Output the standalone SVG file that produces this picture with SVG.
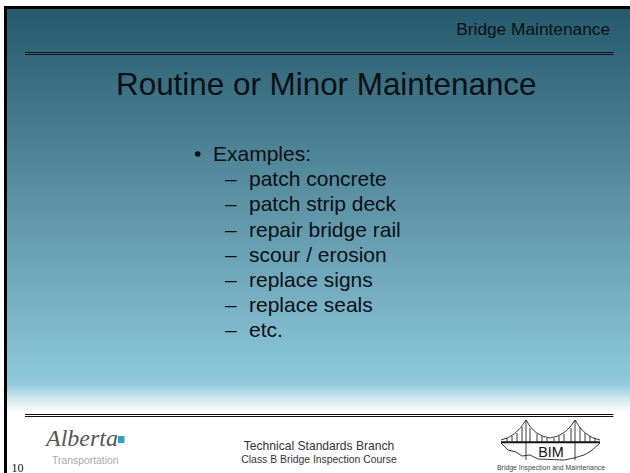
<svg xmlns="http://www.w3.org/2000/svg" width="630" height="473" viewBox="0 0 630 473">
<style>
text{font-family:"Liberation Sans",Arial,sans-serif;fill:#0a0f14}
.b{font-size:21px}
.r{fill:none;stroke:#111;stroke-width:1}
.br{fill:none;stroke:#111;stroke-width:2}
.hg{fill:none;stroke:#222;stroke-width:.9}
.tw{stroke:#777;stroke-width:1.400;fill:none}
</style>
<defs>
<linearGradient id="bg" x1="0" y1="8" x2="0" y2="473" gradientUnits="userSpaceOnUse">
<stop offset="0" stop-color="#255a6b"/>
<stop offset=".789" stop-color="#8cc6d9"/>
<stop offset=".811" stop-color="#97cbdc"/>
<stop offset=".843" stop-color="#d5eaf1"/>
<stop offset=".871" stop-color="#fff"/>
<stop offset="1" stop-color="#fff"/>
</linearGradient>
</defs>
<rect width="630" height="473" fill="#fff"/>
<rect x="5.500" y="7.500" width="640" height="480" fill="url(#bg)" stroke="#000" stroke-width="3"/>
<g id="rules">
<path class="r" d="M25 52.500H613.500M25 54.500H613.500"/>
<path class="r" d="M25 414.500H613.500M25 416.500H613.500"/>
</g>
<g id="header"><text x="610" y="35" font-size="17.300" text-anchor="end">Bridge Maintenance</text></g>
<g id="title"><text x="116" y="94.500" font-size="31.400">Routine or Minor Maintenance</text></g>
<g id="list">
<circle cx="197.700" cy="154" r="2.800" fill="#0a0f14"/>
<text class="b" x="213" y="161">Examples:</text>
<g>
<text class="b" x="225" y="186">–</text><text class="b" x="249" y="186">patch concrete</text>
<text class="b" x="225" y="211">–</text><text class="b" x="249" y="211">patch strip deck</text>
<text class="b" x="225" y="236.500">–</text><text class="b" x="249" y="236.500">repair bridge rail</text>
<text class="b" x="225" y="261.500">–</text><text class="b" x="249" y="261.500">scour / erosion</text>
<text class="b" x="225" y="286.500">–</text><text class="b" x="249" y="286.500">replace signs</text>
<text class="b" x="225" y="311.500">–</text><text class="b" x="249" y="311.500">replace seals</text>
<text class="b" x="225" y="336.500">–</text><text class="b" x="249" y="336.500">etc.</text>
</g>
</g>
<g id="alberta-logo">
<text x="46" y="446" font-size="24" font-style="italic" style="font-family:'Liberation Serif',serif;fill:#555">Alberta</text>
<rect x="118" y="436" width="6.500" height="7" fill="#2f9fc0"/>
<text x="52" y="464" font-size="10.400" style="fill:#aaa">Transportation</text>
</g>
<g id="page-number"><text x="11.500" y="471.500" font-size="12" style="font-family:'Liberation Serif',serif;fill:#111">10</text></g>
<g id="footer">
<text x="319" y="450" font-size="12.100" text-anchor="middle" style="fill:#333">Technical Standards Branch</text>
<text x="319" y="463" font-size="10.400" text-anchor="middle" style="fill:#333">Class B Bridge Inspection Course</text>
</g>
<g id="bim-logo">
<path class="tw" d="M526 420V460M575 420V460"/>
<path class="br" d="M501 442.300H600"/>
<path class="hg" d="M501 440Q516 437 526 420Q534 436 550 438Q566 436 575 420Q584 437 600 440"/>
<path class="hg" d="M507 442V438M512 442V436M517 442V433M522 442V427M530 442V428M537 442V434M542 442V436M547 442V438M554 442V438M559 442V436M564 442V434M571 442V428M580 442V427M585 442V433M590 442V436M595 442V438"/>
<path class="hg" d="M501 443L508 450L516 452L522 456L530 455L538 459L564 460L574 458L584 455L591 451L600 443"/>
<text x="551" y="456.700" font-size="14.400" text-anchor="middle" style="fill:#111">BIM</text>
<text x="551" y="470" font-size="6.900" text-anchor="middle" style="fill:#444">Bridge Inspection and Maintenance</text>
</g>
</svg>
